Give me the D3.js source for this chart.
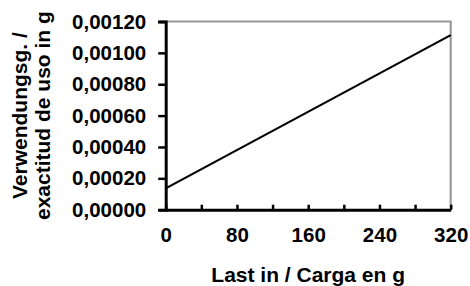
<!DOCTYPE html>
<html>
<head>
<meta charset="utf-8">
<script src="https://cdn.jsdelivr.net/npm/d3@7/dist/d3.min.js"></script>
<style>
  html, body { margin: 0; padding: 0; background: #fff; }
  svg { display: block; font-family: "Liberation Sans", Arial, sans-serif; font-weight: bold; }
</style>
</head>
<body>
<svg id="chart" width="470" height="286"></svg>
<script>
    // data
    const loads  = [0, 320];
    const values = [0.000136, 0.001113];
    const xTicks = [0, 40, 80, 120, 160, 200, 240, 280, 320];
    const xTickLabels = [0, 80, 160, 240, 320];
    const yTicks = [0, 0.0002, 0.0004, 0.0006, 0.0008, 0.0010, 0.0012];
    const yTitle = ['Verwendungsg. /', 'exactitud de uso in g'];
    const xTitle = 'Last in / Carga en g';

    const plotL = 165.7, plotR = 450.7, plotT = 21.5, plotB = 209.7;

    var svg = d3.select('#chart');

    var x = d3.scaleLinear().domain([0, 320]).range([plotL, plotR]);
    var y = d3.scaleLinear().domain([0, 0.0012]).range([plotB, plotT]);

    var locale = d3.formatLocale({ decimal: ',', thousands: '.', grouping: [3], currency: ['', ''] });
    var fmt = locale.format('.5f');

    // grey frame (top / right)
    svg.append('path')
        .attr('d', 'M' + plotL + ',' + plotT + 'H' + plotR + 'V' + plotB)
        .attr('fill', 'none')
        .attr('stroke', '#999')
        .attr('stroke-width', 2.2);

    // y axis
    var yAxis = svg.append('g')
        .attr('transform', 'translate(' + plotL + ',0)')
        .call(d3.axisLeft(y).tickValues(yTicks).tickSize(7.5).tickPadding(12).tickFormat(fmt));
    yAxis.select('.domain').attr('stroke', '#000').attr('stroke-width', 3);
    yAxis.selectAll('.tick line').attr('stroke', '#000').attr('stroke-width', 2.5);
    yAxis.selectAll('.tick text')
        .attr('fill', '#000')
        .style('font-size', '20.5px')
        .style('font-family', '"Liberation Sans", Arial, sans-serif')
        .style('font-weight', 'bold');

    // x axis, ticks pointing inward
    var xAxis = svg.append('g')
        .attr('transform', 'translate(0,' + plotB + ')')
        .call(d3.axisBottom(x).tickValues(xTicks).tickSizeInner(-5).tickSizeOuter(0).tickPadding(0)
            .tickFormat(function (d) { return xTickLabels.indexOf(d) >= 0 ? d : ''; }));
    xAxis.select('.domain').attr('stroke', '#000').attr('stroke-width', 3);
    xAxis.selectAll('.tick line').attr('stroke', '#000').attr('stroke-width', 2.5);
    xAxis.selectAll('.tick text')
        .attr('y', 32)
        .attr('dy', 0)
        .attr('fill', '#000')
        .style('font-size', '20.5px')
        .style('font-family', '"Liberation Sans", Arial, sans-serif')
        .style('font-weight', 'bold');

    // data line
    var line = d3.line()
        .x(function (d) { return x(d[0]); })
        .y(function (d) { return y(d[1]); });

    svg.append('path')
        .datum(d3.zip(loads, values))
        .attr('d', line)
        .attr('fill', 'none')
        .attr('stroke', '#000')
        .attr('stroke-width', 2.2);

    // axis titles
    var cy = (plotT + plotB) / 2;
    svg.append('text')
        .attr('transform', 'translate(27,' + cy + ') rotate(-90)')
        .attr('text-anchor', 'middle')
        .style('font-size', '21px')
        .text(yTitle[0]);
    svg.append('text')
        .attr('transform', 'translate(50,' + cy + ') rotate(-90)')
        .attr('text-anchor', 'middle')
        .style('font-size', '21px')
        .text(yTitle[1]);

    svg.append('text')
        .attr('x', (plotL + plotR) / 2)
        .attr('y', 281.5)
        .attr('text-anchor', 'middle')
        .style('font-size', '21px')
        .text(xTitle);
</script>
</body>
</html>
